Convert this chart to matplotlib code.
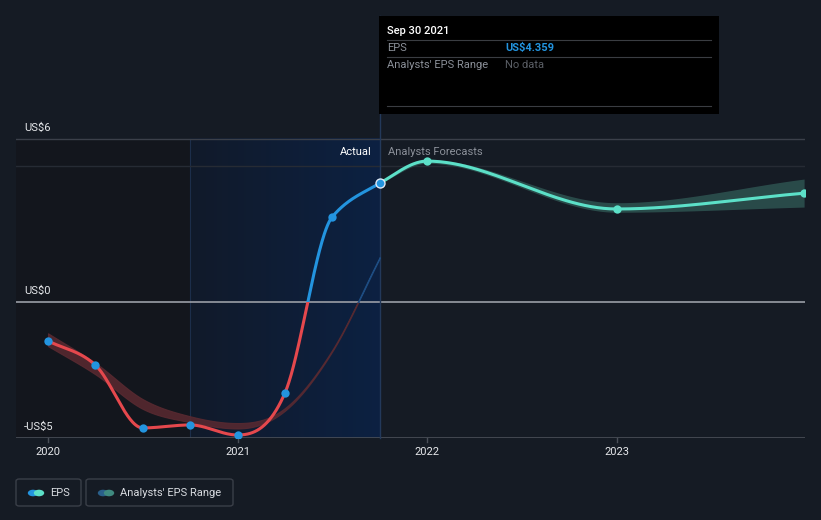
import numpy as np
import matplotlib
matplotlib.use("Agg")
import matplotlib.pyplot as plt
from matplotlib.patches import Rectangle, FancyBboxPatch, Circle
from matplotlib.colors import LinearSegmentedColormap

plt.rcParams['font.family'] = ['Roboto', 'DejaVu Sans']

# ---------------- data ----------------
actual_dates = [2020.0, 2020.25, 2020.5, 2020.75, 2021.0, 2021.25, 2021.5, 2021.75]
actual_eps = [-1.43, -2.32, -4.63, -4.52, -4.89, -3.35, 3.13, 4.359]

forecast_dates = [2021.75, 2022.0, 2023.0, 2023.99]
forecast_eps = [4.359, 5.18, 3.42, 4.0]

hist_range_dates = [2020.0, 2020.25, 2020.5, 2020.75, 2021.0, 2021.25, 2021.5, 2021.75]
hist_range_low = [-1.62, -2.66, -3.93, -4.42, -4.65, -4.0, -1.82, 1.60]
hist_range_high = [-1.15, -2.24, -3.57, -4.20, -4.45, -3.9, -1.76, 1.65]

fc_range_dates = [2021.75, 2022.0, 2023.0, 2023.99]
fc_range_low = [4.359, 5.10, 3.30, 3.49]
fc_range_high = [4.359, 5.24, 3.65, 4.52]

y_ticks = [-5, 0, 6]
y_tick_labels = ['-US$5', 'US$0', 'US$6']
x_ticks = [2020, 2021, 2022, 2023]
x_tick_labels = ['2020', '2021', '2022', '2023']

tooltip_date = 'Sep 30 2021'
tooltip_eps = 'US$4.359'

# ---------------- style ----------------
BG = '#151b24'
W, H = 821, 520
RED = '#e5484d'
BLUE = '#2394df'
TEAL = '#5ce0c8'


def smooth(xs, ys, n=60):
    """Cubic Hermite curve; neighbour-based tangents, flattened at extrema,
    limited to avoid overshoot (falls back to monotone harmonic tangent)."""
    x = np.asarray(xs, float)
    y = np.asarray(ys, float)
    h = np.diff(x)
    d = np.diff(y) / h
    m = np.zeros_like(y)
    for k in range(1, len(x) - 1):
        if d[k - 1] * d[k] > 0:
            cat = (y[k + 1] - y[k - 1]) / (x[k + 1] - x[k - 1])
            lim = 3 * min(abs(d[k - 1]), abs(d[k]))
            if abs(cat) <= lim:
                m[k] = cat
            else:
                w1 = 2 * h[k] + h[k - 1]
                w2 = h[k] + 2 * h[k - 1]
                m[k] = (w1 + w2) / (w1 / d[k - 1] + w2 / d[k])
    m[0] = d[0]
    m[-1] = d[-1]
    xo, yo = [], []
    for k in range(len(x) - 1):
        t = np.linspace(0, 1, n, endpoint=False)
        h00 = 2 * t ** 3 - 3 * t ** 2 + 1
        h10 = t ** 3 - 2 * t ** 2 + t
        h01 = -2 * t ** 3 + 3 * t ** 2
        h11 = t ** 3 - t ** 2
        xo.append(x[k] + t * h[k])
        yo.append(h00 * y[k] + h10 * h[k] * m[k] + h01 * y[k + 1] + h11 * h[k] * m[k + 1])
    xo.append([x[-1]])
    yo.append([y[-1]])
    return np.concatenate(xo), np.concatenate(yo)


fig = plt.figure(figsize=(W / 100, H / 100), dpi=100, facecolor=BG)

def px(x, y):
    return x / W, 1 - y / H

ax_left, ax_right, ax_top, ax_bot = 16, 805, 16, 438
ax = fig.add_axes([ax_left / W, (H - ax_bot) / H, (ax_right - ax_left) / W, (ax_bot - ax_top) / H])
ax.set_facecolor(BG)
ppu = 27.2
ymin = -5
ymax = -5 + (ax_bot - ax_top) / ppu
xmin = 2020 - (48 - 16) / 189.5
xmax = 2020 + (805 - 48) / 189.5
for s in ax.spines.values():
    s.set_visible(False)
ax.set_xticks([])
ax.set_yticks([])

# shaded regions
ax.add_patch(Rectangle((xmin, -5), 2020.75 - xmin, 11, facecolor='#13161d', edgecolor='none', zorder=0))
grad = np.linspace(0, 1, 256)[None, :]
cm = LinearSegmentedColormap.from_list('g', ['#111a2a', '#0c2142'])
ax.imshow(grad, extent=[2020.75, 2021.75, -5, 6], aspect='auto', cmap=cm, zorder=0.5, interpolation='bilinear')
ax.set_xlim(xmin, xmax)
ax.set_ylim(ymin, ymax)
ax.plot([2020.75, 2020.75], [-5, 6], color='#1c2e4a', lw=0.8, zorder=1)

# grid lines
ax.plot([xmin, xmax], [6, 6], color='#3b404a', lw=1, zorder=1)
ax.plot([xmin, xmax], [5, 5], color='#262b34', lw=1, zorder=1)
ax.plot([xmin, xmax], [0, 0], color='#9a9ea6', lw=1.2, zorder=1)
ax.plot([xmin, xmax], [-5, -5], color='#4a4f58', lw=1.2, zorder=1)

# vertical "today" line extending up to tooltip
ax.plot([2021.75, 2021.75], [-5, ymax], color='#23395a', lw=1, zorder=1, clip_on=False)

below = Rectangle((xmin, -20), xmax - xmin, 20, transform=ax.transData)
above = Rectangle((xmin, 0), xmax - xmin, 40, transform=ax.transData)

# historical range band
bx, bl = smooth(hist_range_dates, hist_range_low)
_, bh = smooth(hist_range_dates, hist_range_high)
f1 = ax.fill_between(bx, bl, bh, color='#5a2a31', alpha=0.85, lw=0.8, edgecolor='#5a2a31', zorder=2)
f1.set_clip_path(below)
f2 = ax.fill_between(bx, bl, bh, color='#1f4f85', alpha=0.9, lw=0.8, edgecolor='#1f4f85', zorder=2)
f2.set_clip_path(above)

# forecast range band
fx, fl = smooth(fc_range_dates, fc_range_low)
_, fh = smooth(fc_range_dates, fc_range_high)
ax.fill_between(fx, fl, fh, color='#2b4d4c', alpha=0.95, lw=0, zorder=2)

# one smooth path through actual + forecast, split at the last actual date
all_dates = actual_dates + forecast_dates[1:]
all_eps = actual_eps + forecast_eps[1:]
cx, cy = smooth(all_dates, all_eps)
last = actual_dates[-1]
ma = cx <= last + 1e-9
mf = cx >= last - 1e-9

l1, = ax.plot(cx[ma], cy[ma], color=RED, lw=2.2, zorder=3, solid_capstyle='round')
l1.set_clip_path(below)
l2, = ax.plot(cx[ma], cy[ma], color=BLUE, lw=2.2, zorder=3, solid_capstyle='round')
l2.set_clip_path(above)
ax.plot(cx[mf], cy[mf], color=TEAL, lw=2.2, zorder=3, solid_capstyle='round')

# markers
ax.scatter(actual_dates[:-1], actual_eps[:-1], s=36, color=BLUE, zorder=4, linewidths=0)
ax.scatter(forecast_dates[1:], forecast_eps[1:], s=36, color=TEAL, zorder=4, linewidths=0)
ax.scatter([actual_dates[-1]], [actual_eps[-1]], s=42, color=BLUE, edgecolors='#dfe8f5', linewidths=1.0, zorder=5)

# y labels
for v, lab in zip(y_ticks, y_tick_labels):
    ax.text(2020 - (48 - 24) / 189.5, v + 0.22, lab, color='#e6e8eb', fontsize=8, ha='left', va='bottom', zorder=6)

# x ticks
for v, lab in zip(x_ticks, x_tick_labels):
    ax.plot([v, v], [-5, -5 - 4 / ppu], color='#4a4f58', lw=1, clip_on=False)
    ax.text(v, -5 - 14 / ppu, lab, color='#e6e8eb', fontsize=8, ha='center', va='center', clip_on=False)

# Actual / Analysts Forecasts labels
ax.text(2021.75 - 8 / 189.5, 5.5, 'Actual', color='#ffffff', fontsize=8, ha='right', va='center')
ax.text(2021.75 + 8 / 189.5, 5.5, 'Analysts Forecasts', color='#8b9099', fontsize=8, ha='left', va='center')

# tooltip
x0, y0 = px(379, 114)
x1, y1 = px(719, 16)
fig.patches.append(Rectangle((x0, y0), x1 - x0, y1 - y0, transform=fig.transFigure,
                             facecolor='#000000', edgecolor='none', zorder=10))
for yy in (40, 57, 106):
    a, b = px(387, yy)
    c, _ = px(711, yy)
    fig.add_artist(plt.Line2D([a, c], [b, b], transform=fig.transFigure, color='#3a3d42', lw=0.8, zorder=11))
fig.text(*px(387, 31), tooltip_date, color='#ffffff', fontsize=8, fontweight='medium', ha='left', va='center', zorder=12)
fig.text(*px(387, 48), 'EPS', color='#8b9099', fontsize=8, ha='left', va='center', zorder=12)
fig.text(*px(505, 48), tooltip_eps, color=BLUE, fontsize=8, fontweight='bold', ha='left', va='center', zorder=12)
fig.text(*px(387, 65), "Analysts' EPS Range", color='#8b9099', fontsize=8, ha='left', va='center', zorder=12)
fig.text(*px(505, 65), 'No data', color='#5b5f66', fontsize=8, ha='left', va='center', zorder=12)

# legend
def legend_box(xl, xr, c1, c2, label, tx):
    a, b = px(xl, 506)
    c, d = px(xr, 479)
    fig.patches.append(FancyBboxPatch((a, b), c - a, d - b, boxstyle='round,pad=0,rounding_size=0.004',
                                      transform=fig.transFigure, facecolor='none',
                                      edgecolor='#3a3f48', lw=1))
    for cxx, col in ((33 + xl - 16, c1), (39 + xl - 16, c2)):
        fig.patches.append(Circle(px(cxx, 493), 5.2 / W, transform=fig.transFigure,
                                  facecolor=col, edgecolor='none'))
    fig.text(*px(tx, 493), label, color='#d8dbe0', fontsize=8, ha='left', va='center')

legend_box(16, 81, BLUE, TEAL, 'EPS', 50)
legend_box(86, 233, '#2a5f8a', '#3f8a80', "Analysts' EPS Range", 120)

fig.savefig('out.png', dpi=100, facecolor=BG)
